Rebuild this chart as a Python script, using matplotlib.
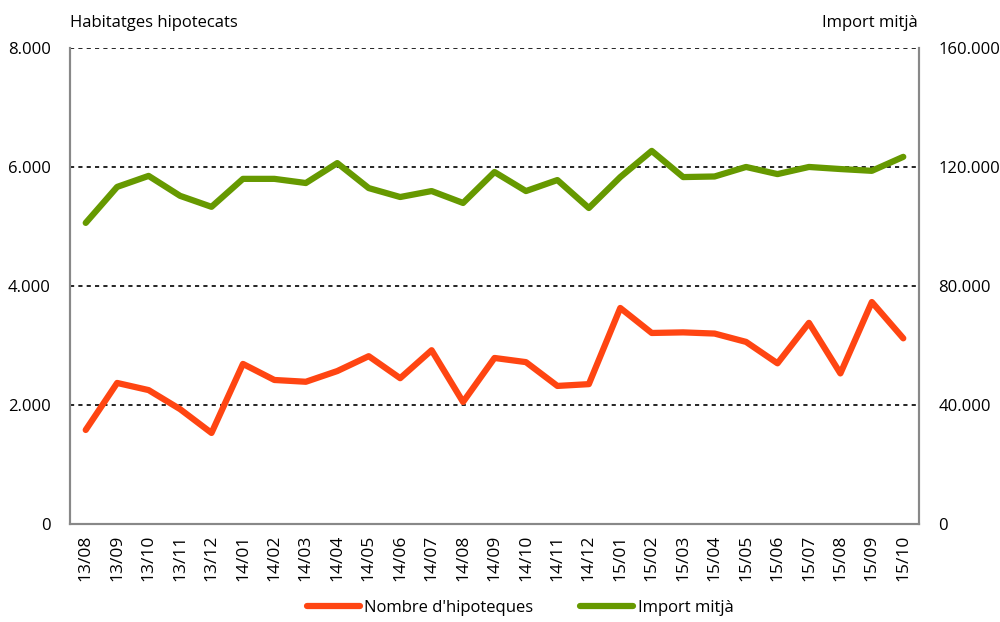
import matplotlib
matplotlib.use("Agg")
import matplotlib.pyplot as plt
from matplotlib.ticker import FuncFormatter

plt.rcParams['font.family'] = ['Open Sans', 'DejaVu Sans']

# months (yy/mm)
months = ["13/08", "13/09", "13/10", "13/11", "13/12",
          "14/01", "14/02", "14/03", "14/04", "14/05", "14/06",
          "14/07", "14/08", "14/09", "14/10", "14/11", "14/12",
          "15/01", "15/02", "15/03", "15/04", "15/05", "15/06",
          "15/07", "15/08", "15/09", "15/10"]

# number of mortgages (left axis)
hipoteques = [1580, 2370, 2250, 1930, 1530,
              2690, 2420, 2390, 2570, 2820, 2450,
              2920, 2050, 2790, 2720, 2320, 2350,
              3630, 3210, 3220, 3200, 3060, 2700,
              3380, 2530, 3730, 3120]

# average amount (right axis)
import_mitja = [101200, 113300, 117000, 110300, 106600,
                116000, 116000, 114600, 121300, 112900, 109900,
                111900, 107900, 118300, 111900, 115600, 106200,
                116600, 125400, 116600, 116800, 120000, 117600,
                120000, 119300, 118700, 123400]

left_ticks = [0, 2000, 4000, 6000, 8000]
right_ticks = [0, 40000, 80000, 120000, 160000]

orange = "#FF4512"
green = "#669900"


def dot_thousands(v, pos):
    return f"{int(v):,}".replace(",", ".")


fig = plt.figure(figsize=(10, 6.22), dpi=100)
ax = fig.add_axes([0.07, 0.1576, 0.849, 0.7653])
ax2 = ax.twinx()

x = range(len(months))
l1, = ax.plot(x, hipoteques, color=orange, lw=4.5, solid_capstyle="round",
              label="Nombre d'hipoteques")
l2, = ax2.plot(x, import_mitja, color=green, lw=4.5, solid_capstyle="round",
               label="Import mitjà")

ax.set_xlim(-0.5, len(months) - 0.5)
ax.set_ylim(0, 8000)
ax2.set_ylim(0, 160000)
ax.set_yticks(left_ticks)
ax2.set_yticks(right_ticks)
ax.yaxis.set_major_formatter(FuncFormatter(dot_thousands))
ax2.yaxis.set_major_formatter(FuncFormatter(dot_thousands))

for t in left_ticks[1:]:
    ax.axhline(t, color="black", lw=1.2, ls=(0, (2.5, 2.5)), zorder=0)

ax.set_xticks(list(x))
ax.set_xticklabels(months, rotation=90, fontsize=12.5)
ax.tick_params(axis="x", length=0, pad=8)
ax.tick_params(axis="y", length=0, pad=14, labelsize=12)
ax2.tick_params(axis="y", length=0, pad=14, labelsize=12)

for a in (ax, ax2):
    a.spines["top"].set_visible(False)
    for s in ("left", "right", "bottom"):
        a.spines[s].set_color("#888888")
        a.spines[s].set_linewidth(1.5)

fig.text(0.07, 0.963, "Habitatges hipotecats", fontsize=12, ha="left", va="center")
fig.text(0.918, 0.963, "Import mitjà", fontsize=12, ha="right", va="center")

fig.legend(handles=[l1, l2], loc="center", bbox_to_anchor=(0.52, 0.022),
           ncol=2, frameon=False, fontsize=12, handlelength=3.2,
           handletextpad=0.25, columnspacing=2.8)

fig.savefig("out.png", dpi=100)
